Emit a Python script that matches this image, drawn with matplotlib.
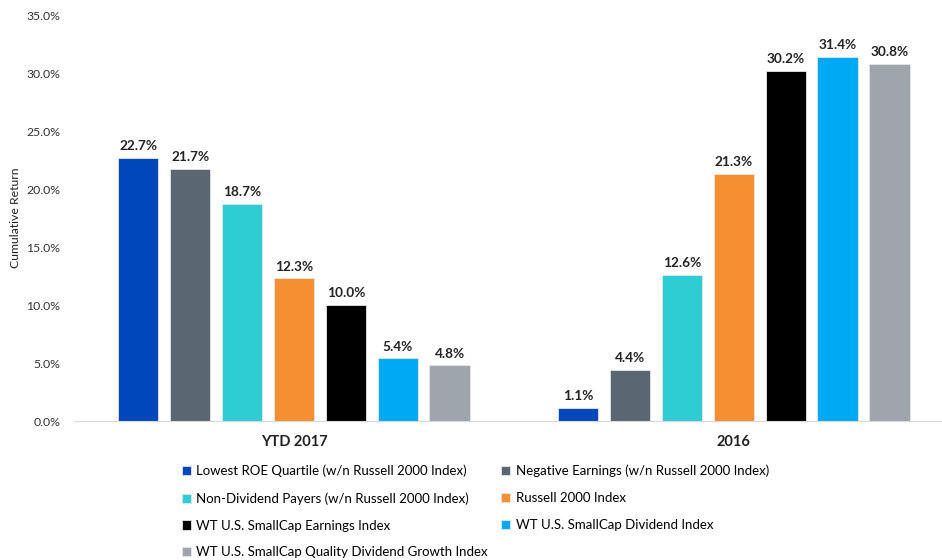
import numpy as np
import matplotlib.pyplot as plt
from matplotlib.ticker import FuncFormatter

plt.rcParams['font.family'] = ['Lato', 'DejaVu Sans']

categories = ['YTD 2017', '2016']
series = [
    'Lowest ROE Quartile (w/n Russell 2000 Index)',
    'Negative Earnings (w/n Russell 2000 Index)',
    'Non-Dividend Payers (w/n Russell 2000 Index)',
    'Russell 2000 Index',
    'WT U.S. SmallCap Earnings Index',
    'WT U.S. SmallCap Dividend Index',
    'WT U.S. SmallCap Quality Dividend Growth Index',
]
values = [
    [22.7, 1.1],
    [21.7, 4.4],
    [18.7, 12.6],
    [12.3, 21.3],
    [10.0, 30.2],
    [5.4, 31.4],
    [4.8, 30.8],
]
colors = ['#0047BB', '#5B6770', '#2ECCD3', '#F58F32', '#000000', '#00A9F4', '#9EA5AC']

fig = plt.figure(figsize=(9.42, 5.6), dpi=100)
ax = fig.add_axes([74/942, 139/560, 868/942, 406/560])

x = np.arange(len(categories))
step = 0.118
width = 0.092
handles = []
for i, (name, vals) in enumerate(zip(series, values)):
    pos = x + (i - 3) * step
    b = ax.bar(pos, vals, width, color=colors[i], edgecolor='#E6E6E6', linewidth=0.6, label=name)
    handles.append(b)
    for p, v in zip(pos, vals):
        ax.text(p, v + 0.5, f'{v:.1f}%', ha='center', va='bottom', fontsize=9.8, fontweight='bold', color='#222222')

ax.set_xlim(-0.5, 1.473)
ax.set_ylim(0, 35)
ax.set_yticks(np.arange(0, 36, 5))
ax.yaxis.set_major_formatter(FuncFormatter(lambda v, _: f'{v:.1f}%'))
ax.set_xticks(x)
ax.set_xticklabels(categories, fontsize=10, fontweight='bold')
ax.tick_params(axis='y', length=0, labelsize=8.8, colors='#333333', pad=10)
ax.tick_params(axis='x', length=0, pad=10, labelsize=10.5, colors='#222222')
ax.set_ylabel('Cumulative Return', fontsize=8.8, color='#222222', labelpad=4)
for s in ['top', 'right', 'left']:
    ax.spines[s].set_visible(False)
ax.spines['bottom'].set_color('#D9D9D9')

order = [0, 2, 4, 6, 1, 3, 5]
fig.legend([handles[i] for i in order], [series[i] for i in order], ncol=2,
           loc='upper left', bbox_to_anchor=(170/942, 1 - 453/560), frameon=False,
           fontsize=9.5, handlelength=0.7, handleheight=0.7, handletextpad=0.4,
           columnspacing=1.0, labelspacing=1.12)

fig.savefig('out.png', dpi=100)
